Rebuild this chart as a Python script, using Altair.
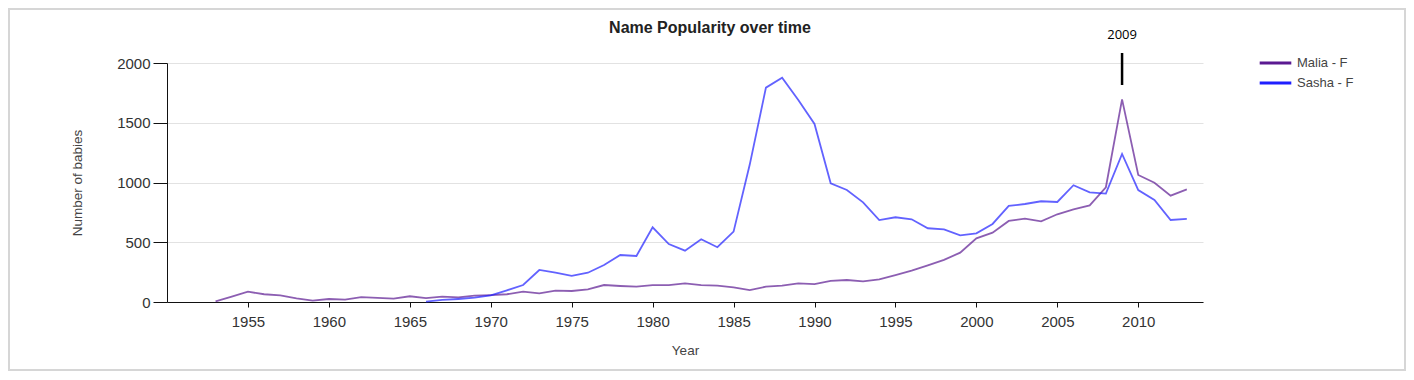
import altair as alt
import pandas as pd

malia_years = list(range(1953, 2014))
malia_values = [5, 45, 86, 65, 55, 30, 12, 25, 20, 40, 35, 28, 48, 32, 45, 38, 53, 58, 65, 86,
                72, 95, 92, 106, 142, 134, 128, 142, 142, 156, 142, 137, 123, 100, 128, 137, 156,
                150, 176, 184, 173, 190, 225, 262, 307, 352, 413, 533, 580, 678, 697, 675, 734,
                776, 809, 960, 1696, 1063, 998, 890, 943]
sasha_years = list(range(1966, 2014))
sasha_values = [3, 17, 25, 36, 56, 98, 142, 268, 245, 218, 245, 310, 393, 385, 625, 485, 430,
                525, 458, 589, 1150, 1794, 1877, 1690, 1490, 993, 937, 834, 686, 709, 692, 617,
                608, 558, 575, 653, 804, 820, 843, 837, 977, 918, 907, 1239, 937, 854, 686, 695]
series_names = ["Malia - F", "Sasha - F"]
series_colors = ["#5b1a91", "#1f1fff"]
x_ticks = list(range(1955, 2011, 5))
y_ticks = [0, 500, 1000, 1500, 2000]
annot_year = [2009]
annot_label = ["2009"]
chart_title = ["Name Popularity over time"]

df = pd.concat([
    pd.DataFrame({"Year": malia_years, "Count": malia_values, "Name": series_names[0]}),
    pd.DataFrame({"Year": sasha_years, "Count": sasha_values, "Name": series_names[1]}),
])
annot = pd.DataFrame({"Year": annot_year, "label": annot_label})

FONT = "Liberation Sans"

lines = alt.Chart(df).mark_line(strokeWidth=1.8, opacity=0.7).encode(
    x=alt.X("Year:Q", scale=alt.Scale(domain=[1950, 2014], nice=False, zero=False),
            axis=alt.Axis(values=x_ticks, title="Year", format="d", grid=False,
                          tickSize=5, labelPadding=7, titlePadding=14)),
    y=alt.Y("Count:Q", scale=alt.Scale(domain=[0, 2000], nice=False),
            axis=alt.Axis(values=y_ticks, title="Number of babies", grid=True, format="d",
                          tickSize=14, labelPadding=3, titlePadding=32)),
    color=alt.Color("Name:N", scale=alt.Scale(domain=series_names, range=series_colors),
                    legend=alt.Legend(title=None, orient="none", legendX=1091, legendY=-9,
                                      symbolType="stroke", symbolSize=1000, symbolStrokeWidth=3,
                                      symbolOpacity=1, clipHeight=18, labelFontSize=13,
                                      labelFont=FONT, labelColor="#444", labelOffset=4)),
)

rule = alt.Chart(annot).mark_rule(color="black", strokeWidth=2.5).encode(
    x="Year:Q", y=alt.value(-10), y2=alt.value(22)
)
text = alt.Chart(annot).mark_text(font="Open Sans", fontSize=13, fontWeight="normal",
                                   color="black", baseline="alphabetic").encode(
    x="Year:Q", y=alt.value(-24), text="label:N"
)

title = alt.Chart(pd.DataFrame({"t": chart_title})).mark_text(
    font=FONT, fontSize=16, fontWeight="bold", color="#222", align="center",
    baseline="alphabetic"
).encode(x=alt.value(543), y=alt.value(-30), text="t:N")

border = alt.Chart(pd.DataFrame({"b": [1]})).mark_rect(
    fill=None, stroke="#d6d6d6", strokeWidth=2
).encode(x=alt.value(-158), x2=alt.value(1238), y=alt.value(-54), y2=alt.value(307))

chart = alt.layer(border, lines, rule, text, title).properties(
    width=1036, height=239,
    padding={"left": 159, "top": 55, "right": 203, "bottom": 70},
    autosize=alt.AutoSizeParams(type="none"),
).configure_view(stroke=None).configure_axis(
    labelFont=FONT, titleFont=FONT, labelFontSize=15, labelColor="#333",
    titleFontSize=13.5, titleFontWeight="normal", titleColor="#444",
    domainColor="#111", tickColor="#111", gridColor="#e2e2e2"
)

chart.save("out.html", embed_options={"renderer": "svg", "actions": False})
